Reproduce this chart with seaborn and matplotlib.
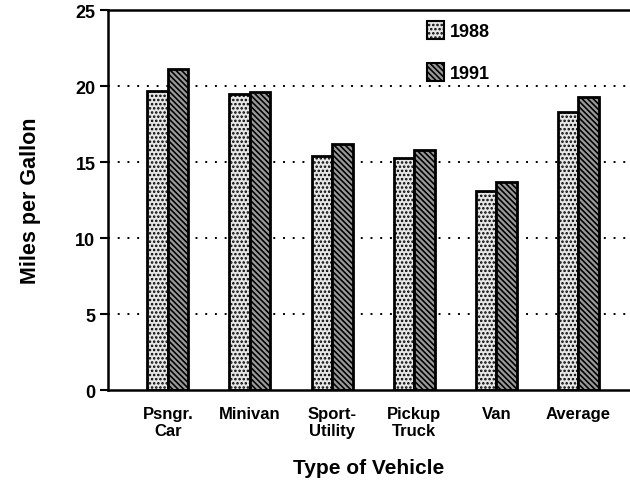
import pandas as pd
import seaborn as sns
import matplotlib.pyplot as plt

categories = ["Psngr.\nCar", "Minivan", "Sport-\nUtility", "Pickup\nTruck", "Van", "Average"]
years = ["1988", "1991"]
mpg_1988 = [19.7, 19.5, 15.4, 15.3, 13.1, 18.3]
mpg_1991 = [21.1, 19.6, 16.2, 15.8, 13.7, 19.3]

df = pd.DataFrame({
    "vehicle": categories * 2,
    "year": [years[0]] * len(categories) + [years[1]] * len(categories),
    "mpg": mpg_1988 + mpg_1991,
})

sns.set_style("white")
plt.rcParams['font.family'] = ['Liberation Sans', 'DejaVu Sans']
plt.rcParams['hatch.linewidth'] = 1.2
plt.rcParams['text.color'] = 'black'
plt.rcParams['axes.labelcolor'] = 'black'
plt.rcParams['xtick.color'] = 'black'
plt.rcParams['ytick.color'] = 'black'

fig = plt.figure(figsize=(6.3, 4.85), dpi=100)
ax = fig.add_axes([0.1714, 0.1938, 0.8286, 0.7832])

sns.barplot(data=df, x="vehicle", y="mpg", hue="year", order=categories,
            hue_order=years, palette=["white", "white"], width=0.5,
            edgecolor="black", linewidth=2, ax=ax, legend=True)

# scanned-print look: light dots for 1988, dense diagonals for 1991
hatches = {"1988": "....", "1991": "\\\\\\\\\\\\"}
faces = {"1988": "#e6e6e6", "1991": "#9a9a9a"}
for cont, yr in zip(ax.containers, years):
    for bar in cont:
        bar.set_hatch(hatches[yr])
        bar.set_facecolor(faces[yr])

ax.set_ylim(0, 25)
ax.set_xlim(-0.73, 5.63)
ax.set_yticks([0, 5, 10, 15, 20, 25])
for y in [5, 10, 15, 20]:
    ax.axhline(y, color="black", linestyle=(0, (1, 4)), linewidth=1.4, zorder=0)

for side in ["left", "bottom", "top"]:
    ax.spines[side].set_visible(True)
    ax.spines[side].set_linewidth(1.8)
    ax.spines[side].set_color("black")
ax.spines["right"].set_visible(False)

ax.tick_params(axis="y", left=True, length=6, width=1.5, labelsize=13, pad=3)
ax.tick_params(axis="x", bottom=False, labelsize=12, pad=8)
for lbl in ax.get_yticklabels():
    lbl.set_fontweight("bold")
for lbl in ax.get_xticklabels():
    lbl.set_fontweight("bold")
    lbl.set_multialignment("center")

ax.set_xlabel("Type of Vehicle", fontsize=15, fontweight="bold", labelpad=14)
ax.set_ylabel("Miles per Gallon", fontsize=15.5, fontweight="bold", labelpad=25)

leg = ax.legend(loc="upper left", bbox_to_anchor=(0.58, 1.015), frameon=False,
                fontsize=13, handlelength=0.95, handleheight=1.2,
                labelspacing=1.25, handletextpad=0.3)
for txt in leg.get_texts():
    txt.set_fontweight("bold")
for patch, yr in zip(leg.get_patches(), years):
    patch.set_hatch(hatches[yr])
    patch.set_facecolor(faces[yr])
    patch.set_edgecolor("black")
    patch.set_linewidth(1.5)

fig.savefig("out.png", dpi=100)
